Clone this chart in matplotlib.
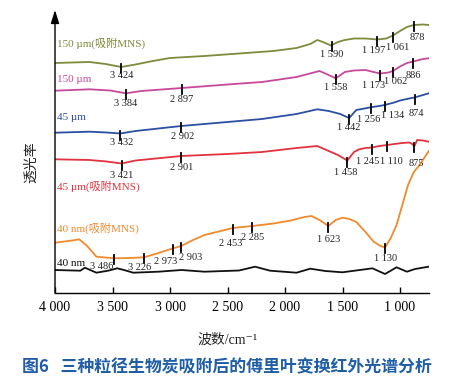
import numpy as np
import matplotlib
matplotlib.use("Agg")
import matplotlib.pyplot as plt

# ---------------- data ----------------
xticks = [4000, 3500, 3000, 2500, 2000, 1500, 1000]
xtick_labels = ["4 000", "3 500", "3 000", "2 500", "2 000", "1 500", "1 000"]

series_names = ["150 µm(吸附MNS)", "150 µm", "45 µm", "45 µm(吸附MNS)", "40 nm(吸附MNS)", "40 nm"]

olive_wn = [4000, 3700, 3560, 3424, 3300, 3150, 3000, 2700, 2400, 2100, 1900, 1780, 1720, 1670, 1600, 1540,
            1480, 1400, 1300, 1197, 1120, 1061, 1000, 940, 878, 800, 750]
olive_t = [230, 231, 229, 226, 228.5, 232, 235, 237, 239.5, 242, 245, 249, 253, 251, 247.5, 251,
           253, 254.5, 254.5, 253.5, 254.5, 257.5, 262, 266, 268, 268.5, 268]
olive_peaks = [3424, 1590, 1197, 1061, 878]

magenta_wn = [4000, 3700, 3520, 3384, 3250, 2897, 2500, 2200, 1900, 1700, 1640, 1558, 1480, 1400, 1300,
              1230, 1173, 1100, 1062, 1000, 940, 886, 800, 750]
magenta_t = [202.3, 203.7, 202.5, 199.7, 202, 205, 208.5, 211, 216, 222, 219, 214.7, 221, 222.5, 223,
             221, 219.5, 220.5, 222, 226.5, 230, 231.5, 234, 234.7]
magenta_peaks = [3384, 2897, 1558, 1173, 1062, 886]

blue_wn = [4000, 3700, 3550, 3432, 3300, 2902, 2500, 2200, 1900, 1720, 1620, 1520, 1442, 1380, 1300,
           1256, 1180, 1134, 1050, 1000, 920, 874, 800, 750]
blue_t = [160.3, 161.3, 160.5, 159.5, 162, 167, 171, 174, 179, 183.7, 182, 179, 175, 183, 184.7,
          185.7, 187, 188, 190.5, 192.5, 194.5, 195.5, 198, 199.7]
blue_peaks = [3432, 2902, 1442, 1256, 1134, 874]

red_wn = [4000, 3700, 3550, 3421, 3300, 2901, 2500, 2200, 1900, 1720, 1640, 1540, 1458, 1400, 1360,
          1300, 1245, 1180, 1110, 1050, 980, 920, 900, 875, 850, 800, 750]
red_t = [133.7, 133, 131.5, 129.5, 132.5, 137, 139, 141, 145, 147, 143, 138, 132.5, 141, 143.5,
         145, 145.5, 147, 148, 149, 150, 150.5, 149.5, 147, 153, 152.5, 151.3]
red_peaks = [3421, 2901, 1458, 1245, 1110, 875]

orange_wn = [4000, 3850, 3790, 3720, 3640, 3486, 3350, 3226, 3100, 2973, 2903, 2800, 2700, 2453, 2285,
             2100, 1950, 1830, 1770, 1700, 1623, 1560, 1500, 1440, 1380, 1300, 1230, 1170, 1130, 1080,
             1030, 980, 930, 880, 830, 790, 750]
orange_t = [50.3, 52.5, 53.7, 47, 36.3, 34.7, 35, 35.7, 40, 44.7, 47, 53, 58, 65, 67,
            69.5, 72.5, 76, 77, 73, 67, 73, 75.3, 74, 71, 61, 51.5, 47, 45.7, 55,
            68, 88, 108, 121, 128, 135, 142]
orange_peaks = [3486, 3226, 2973, 2903, 2453, 2285, 1623, 1130]

black_wn = [4000, 3780, 3740, 3640, 3530, 3460, 3400, 3320, 3100, 2900, 2700, 2400, 2260, 2130, 1900,
            1780, 1650, 1500, 1350, 1240, 1130, 1030, 940, 870, 750]
black_t = [23, 22.3, 25.3, 20.3, 22.5, 24.7, 23, 20.3, 21.3, 23, 21.3, 22.5, 26.3, 22.3, 20.3,
           24.3, 22, 20.7, 23, 24.7, 19, 25.7, 21.3, 24, 26.3]

# ---------------- style ----------------
colors = ["#7f8a3c", "#c8489a", "#2a4fa3", "#e2323f", "#f08a2c", "#111111"]
name_pos = [(57, 43), (57, 80), (57, 117), (57, 186), (57, 228), (57, 263)]  # pixel positions of series names
label_offsets = {
    0: [(0, 9), (0, 9.5), (-4, 11), (5, 12), (3, 13)],
    1: [(0, 10.5), (0, 11), (0, 9), (-7, 12.5), (3, 10.5), (0, 13.5)],
    2: [(1, 9), (1, 10.5), (0, 10), (-2, 12), (8, 11), (2, 16)],
    3: [(0, 12.5), (0, 12), (-2, 12), (-4, 14), (4, 16.5), (2, 17)],
    4: [(-12.5, 8), (-4, 10), (-7, 13), (9, 12), (-2, 15), (0, 12), (0, 13), (0, 11)],
}

W, H = 455, 379
fig = plt.figure(figsize=(W / 100, H / 100), dpi=100)
ax_l, ax_r, ax_b, ax_t = 55, 429, 293, 10
ax = fig.add_axes([ax_l / W, 1 - ax_b / H, (ax_r - ax_l) / W, (ax_b - ax_t) / H])
ax.set_xlim(4000, 748)
ax.set_ylim(0, ax_b - ax_t)

serif_cjk = ['Liberation Serif', 'Noto Sans CJK SC', 'DejaVu Sans']
all_wn = [olive_wn, magenta_wn, blue_wn, red_wn, orange_wn, black_wn]
all_t = [olive_t, magenta_t, blue_t, red_t, orange_t, black_t]
all_peaks = [olive_peaks, magenta_peaks, blue_peaks, red_peaks, orange_peaks, []]

px_per_wn = (ax_r - ax_l) / (4000 - 748)

for i, (wn, t, pk) in enumerate(zip(all_wn, all_t, all_peaks)):
    ax.plot(wn, t, color=colors[i], lw=1.3, solid_joinstyle='round')
    for j, p in enumerate(pk):
        v = np.interp(p, wn[::-1], t[::-1])
        ax.plot([p, p], [v + 3, v - 6], color='black', lw=1.3)
        dx, dy = label_offsets[i][j]
        ax.text(p - dx / px_per_wn, v - dy, f"{p:,}".replace(",", " "),
                ha='center', va='center', fontsize=7.5, family='Liberation Serif', color='#222222')
    nx, ny = name_pos[i]
    fig.text(nx / W, 1 - ny / H, series_names[i], ha='left', va='center', fontsize=8,
             family=serif_cjk, color=colors[i])

for s in ['top', 'right', 'left']:
    ax.spines[s].set_visible(False)
ax.spines['bottom'].set_linewidth(1.0)
ax.annotate('', xy=(0, 1.0), xytext=(0, 0), xycoords='axes fraction',
            arrowprops=dict(arrowstyle='-|>,head_width=0.25,head_length=0.8', color='black', lw=1.0,
                            shrinkA=0, shrinkB=0))
ax.set_yticks([])
ax.set_xticks(xticks)
ax.set_xticklabels(xtick_labels, family='Liberation Serif', fontsize=10)
ax.tick_params(axis='x', direction='in', length=4, width=1.0, pad=6)

fig.text(31 / W, 1 - 162 / H, "透光率", rotation=90, ha='center', va='center', fontsize=10,
         family=['Noto Sans CJK SC'], color='#222222')
fig.text(227 / W, 1 - 340 / H, "波数/cm⁻¹", ha='center', va='center', fontsize=10,
         family=serif_cjk, color='#222222')
fig.text(227 / W, 1 - 367 / H, "图6   三种粒径生物炭吸附后的傅里叶变换红外光谱分析", ha='center', va='center',
         fontsize=12.2, fontweight='bold', family=['Noto Sans CJK SC'], color='#1f5da6')

fig.savefig("out.png", dpi=100)
